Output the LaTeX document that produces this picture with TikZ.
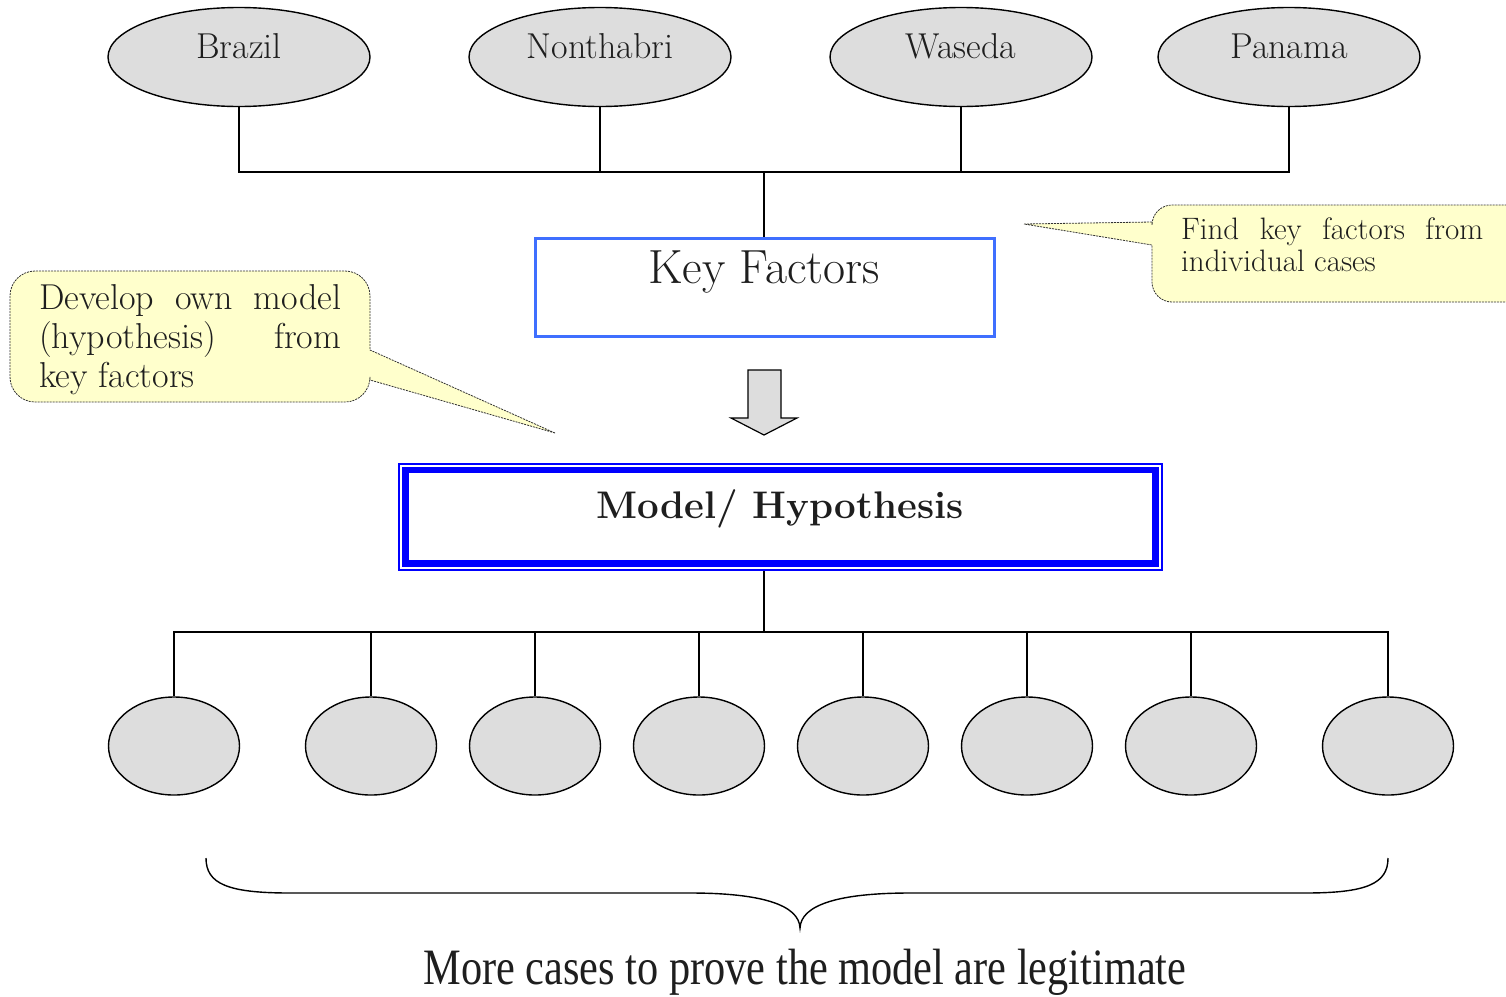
\documentclass[tikz,border=0pt]{standalone}
\usepackage{fontspec}
\newfontfamily\timesf{Liberation Serif}
\usetikzlibrary{shapes.geometric}
\definecolor{ellfill}{HTML}{DDDDDD}
\definecolor{kfblue}{HTML}{3F6FFF}
\definecolor{mhblue}{HTML}{0000FF}
\definecolor{callfill}{HTML}{FFFFCC}
\definecolor{txt}{HTML}{1E1E1E}
\tikzset{
  caseell/.style={ellipse, draw=black, line width=1.4pt, fill=ellfill, inner sep=0pt},
  bigell/.style={caseell, minimum width=262pt, minimum height=99pt},
  smallell/.style={caseell, minimum width=131pt, minimum height=98pt},
  conn/.style={line width=1.4pt, draw=black},
  lbl/.style={anchor=base, text=txt, font=\fontsize{36}{42}\selectfont},
  callout/.style={draw=black!80, fill=callfill, line width=0.8pt, dash pattern=on 2pt off 1pt},
  kbox/.style={draw=kfblue, line width=3pt, minimum width=459pt, minimum height=98pt, inner sep=0pt},
  lctext/.style={anchor=base west, text=txt, font=\fontsize{36}{39}\selectfont, inner sep=0pt},
  rctext/.style={anchor=base west, text=txt, font=\fontsize{31}{32}\selectfont, inner sep=0pt},
}
\begin{document}
\begin{tikzpicture}[x=1pt,y=-1pt]
\clip (0,0) rectangle (1506,996);
\fill[white] (0,0) rectangle (1506,996);

% top ellipses
\node[bigell] (b1) at (239,57) {};
\node[bigell] (b2) at (600,57) {};
\node[bigell] (b3) at (961,57) {};
\node[bigell] (b4) at (1289,57) {};
\node[lbl] (t1) at (239,58) {Brazil};
\node[lbl] (t2) at (600,58) {Nonthabri};
\node[lbl] (t3) at (961,58) {Waseda};
\node[lbl] (t4) at (1289,58) {Panama};

\coordinate (bus1) at (764,172);
\draw[conn] (b1.south) |- (bus1);
\draw[conn] (b2.south) |- (bus1);
\draw[conn] (b3.south) |- (bus1);
\draw[conn] (b4.south) |- (bus1);

% Key Factors box
\node[kbox] (kf) at (764.5,287) {};
\node[anchor=base, text=txt, font=\fontsize{48}{54}\selectfont] (kft) at (764,283) {Key Factors};
\draw[conn] (bus1) -- (bus1 |- kf.north);

% block arrow
\draw[line width=1.2pt, fill=ellfill] (748,370) -- (781,370) -- (781,418) -- (797,418) -- (764,435) -- (731,418) -- (748,418) -- cycle;

% Model / Hypothesis box
\node[draw=mhblue, line width=1.5pt, minimum width=763pt, minimum height=106pt, inner sep=0pt] (mh) at (780.5,517) {};
\draw[draw=mhblue, line width=6.5pt] (405.5,470) rectangle (1155.5,563.5);
\node[anchor=base, text=txt, font=\bfseries\fontsize{38.5}{44}\selectfont] (mht) at (780,518) {Model/ Hypothesis};

% lower cases
\coordinate (bus2) at (764,632);
\draw[conn] (bus2 |- mh.south) -- (bus2);
\foreach \i/\x in {1/174,2/371,3/535,4/699,5/863,6/1027,7/1191,8/1388}{
  \node[smallell] (c\i) at (\x,746) {};
  \draw[conn] (bus2) -| (c\i.north);
}

% brace
\draw[line width=1.4pt] (206,858) .. controls (206,884) and (228,893) .. (290,893) -- (690,893)
  .. controls (762,893) and (799,905) .. (800,928)
  .. controls (801,905) and (838,893) .. (910,893) -- (1305,893)
  .. controls (1366,893) and (1388,884) .. (1388,858);
\node[anchor=base, text=txt, inner sep=0pt] (more) at (805,984) {\scalebox{0.83}[1]{\timesf\fontsize{51}{58}\selectfont More cases to prove the model are legitimate}};

% right callout
\draw[callout] (1024,224) -- (1152,222) [rounded corners=20pt] -- (1152,205) -- (1540,205) -- (1540,302) -- (1152,302) [sharp corners] -- (1152,245) -- cycle;
\node[rctext] (rc1) at (1181,239) {\makebox[302pt][s]{Find key factors from}};
\node[rctext] (rc2) at (1181,271) {individual cases};

% left callout
\draw[callout] (555,433) -- (370,350) [rounded corners=25pt] -- (370,271) -- (10,271) -- (10,402) -- (370,402) [sharp corners] -- (370,380) -- cycle;
\node[lctext] (lc1) at (39,309) {\makebox[302pt][s]{Develop own model}};
\node[lctext] (lc2) at (39,348) {\makebox[302pt][s]{(hypothesis) from}};
\node[lctext] (lc3) at (39,387) {key factors};
\end{tikzpicture}
\end{document}
